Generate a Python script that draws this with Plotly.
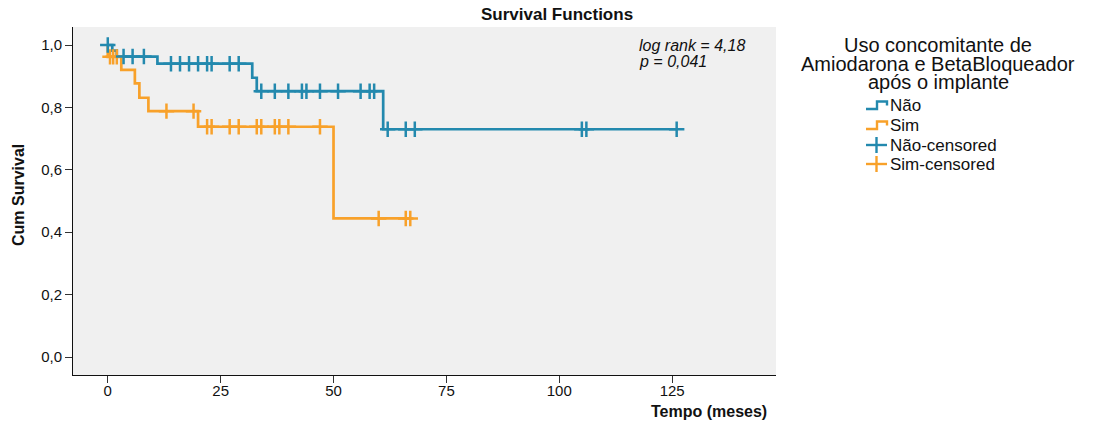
import plotly.graph_objects as go

# Kaplan-Meier step curves (time in months, cumulative survival)
nao_time = [0, 1, 2, 11, 32, 33, 61, 126]
nao_surv = [1.0, 0.982, 0.963, 0.940, 0.895, 0.852, 0.730, 0.730]

sim_time = [0, 0, 3, 6, 7, 9, 20, 50, 67]
sim_surv = [1.0, 0.962, 0.920, 0.877, 0.831, 0.788, 0.738, 0.444, 0.444]

# Censored observations (time, survival level at that time)
nao_cens_time = [0, 3.5, 5.5, 8, 14, 16, 18, 20, 22, 23, 27, 29,
                 34, 37, 40, 43, 44, 47, 51, 56, 58, 59,
                 62, 66, 68, 105, 106, 126]
nao_cens_surv = [1.0, 0.963, 0.963, 0.963] + [0.940] * 8 + [0.852] * 10 + [0.730] * 6

sim_cens_time = [0.5, 1.2, 2.0, 13, 19, 22, 23, 27, 29, 33, 34, 37, 38, 40, 47, 60, 66, 67]
sim_cens_surv = [0.962] * 3 + [0.788] * 2 + [0.738] * 10 + [0.444] * 3

y_ticks = [0.0, 0.2, 0.4, 0.6, 0.8, 1.0]
y_tick_text = ["0,0", "0,2", "0,4", "0,6", "0,8", "1,0"]
x_ticks = [0, 25, 50, 75, 100, 125]

group_names = ["Não", "Sim"]
legend_labels = ["Não", "Sim", "Não-censored", "Sim-censored"]
legend_title = ["Uso concomitante de", "Amiodarona e BetaBloqueador", "após o implante"]

BLUE = "#2389AE"
ORANGE = "#F8A12A"
FONT = "Liberation Sans, Arial, sans-serif"

W, H = 1094, 425
PL, PR, PT, PB = 73, 776, 27, 375  # plot area in pixels


def px(x):
    return (x - PL) / (PR - PL)


def py(y):
    return (PB - y) / (PB - PT)


fig = go.Figure()

fig.add_trace(go.Scatter(x=sim_time, y=sim_surv, mode="lines", line_shape="hv",
                         line=dict(color=ORANGE, width=2.7), name=group_names[1],
                         showlegend=False, hoverinfo="skip"))
fig.add_trace(go.Scatter(x=nao_time, y=nao_surv, mode="lines", line_shape="hv",
                         line=dict(color=BLUE, width=2.7), name=group_names[0],
                         showlegend=False, hoverinfo="skip"))
fig.add_trace(go.Scatter(x=sim_cens_time, y=sim_cens_surv, mode="markers",
                         marker=dict(symbol="cross-thin", size=11,
                                     line=dict(color=ORANGE, width=2.5)),
                         showlegend=False, hoverinfo="skip"))
fig.add_trace(go.Scatter(x=nao_cens_time, y=nao_cens_surv, mode="markers",
                         marker=dict(symbol="cross-thin", size=11,
                                     line=dict(color=BLUE, width=2.5)),
                         showlegend=False, hoverinfo="skip"))

annotations = [
    dict(text="<b>Survival Functions</b>", x=px(557), y=py(15), xref="paper", yref="paper",
         xanchor="center", yanchor="middle", showarrow=False,
         font=dict(family=FONT, size=17, color="#111")),
    dict(text="<b>Tempo (meses)</b>", x=px(769), y=py(412), xref="paper", yref="paper",
         xanchor="right", yanchor="middle", showarrow=False,
         font=dict(family=FONT, size=16, color="#111")),
    dict(text="<b>Cum Survival</b>", x=px(18), y=py(195), xref="paper", yref="paper",
         xanchor="center", yanchor="middle", showarrow=False, textangle=-90,
         font=dict(family=FONT, size=16, color="#111")),
    dict(text="<i>log rank = 4,18</i>", x=px(637), y=py(45), xref="paper", yref="paper",
         xanchor="left", yanchor="middle", showarrow=False,
         font=dict(family=FONT, size=16, color="#111")),
    dict(text="<i>p = 0,041</i>", x=px(637), y=py(61), xref="paper", yref="paper",
         xanchor="left", yanchor="middle", showarrow=False,
         font=dict(family=FONT, size=16, color="#111")),
]

# Legend title, one annotation per line for tight spacing
for i, line in enumerate(legend_title):
    annotations.append(dict(text=line, x=px(938), y=py(45 + i * 18.5), xref="paper", yref="paper",
                            xanchor="center", yanchor="middle", showarrow=False,
                            font=dict(family=FONT, size=20, color="#111")))

item_y = [105, 125, 145, 164]
item_col = [BLUE, ORANGE, BLUE, ORANGE]
shapes = []
for i, (lab, yy, col) in enumerate(zip(legend_labels, item_y, item_col)):
    annotations.append(dict(text=lab, x=px(888), y=py(yy), xref="paper", yref="paper",
                            xanchor="left", yanchor="middle", showarrow=False,
                            font=dict(family=FONT, size=17, color="#111")))
    if i < 2:
        # step-shaped survival icon
        path = (f"M {px(866)} {py(yy + 4)} L {px(877)} {py(yy + 4)} "
                f"L {px(877)} {py(yy - 3.5)} L {px(887)} {py(yy - 3.5)} L {px(887)} {py(yy + 0.5)}")
        shapes.append(dict(type="path", path=path, xref="paper", yref="paper",
                           line=dict(color=col, width=2.4)))
    else:
        shapes.append(dict(type="line", x0=px(866), x1=px(887), y0=py(yy), y1=py(yy),
                           xref="paper", yref="paper", line=dict(color=col, width=2.4)))
        shapes.append(dict(type="line", x0=px(876.5), x1=px(876.5), y0=py(yy - 8), y1=py(yy + 8),
                           xref="paper", yref="paper", line=dict(color=col, width=2.4)))

fig.update_layout(
    width=W, height=H,
    margin=dict(l=PL, r=W - PR, t=PT, b=H - PB, pad=0),
    paper_bgcolor="white",
    plot_bgcolor="#F0F0F0",
    showlegend=False,
    annotations=annotations,
    shapes=shapes,
    font=dict(family=FONT, size=15, color="#111"),
)

fig.update_xaxes(range=[-7.7, 148.0], tickvals=x_ticks, ticks="outside", ticklen=7,
                 tickcolor="#333", tickwidth=1, showline=True, linecolor="#111",
                 linewidth=1, showgrid=False, zeroline=False, ticklabelstandoff=-5,
                 tickfont=dict(family=FONT, size=15, color="#111"))
fig.update_yaxes(range=[-0.0577, 1.0577], tickvals=y_ticks, ticktext=y_tick_text,
                 ticks="outside", ticklen=7, tickcolor="#333", tickwidth=1,
                 showline=True, linecolor="#111", linewidth=1, showgrid=False,
                 zeroline=False, tickfont=dict(family=FONT, size=15, color="#111"))

fig.write_html("out.html")
